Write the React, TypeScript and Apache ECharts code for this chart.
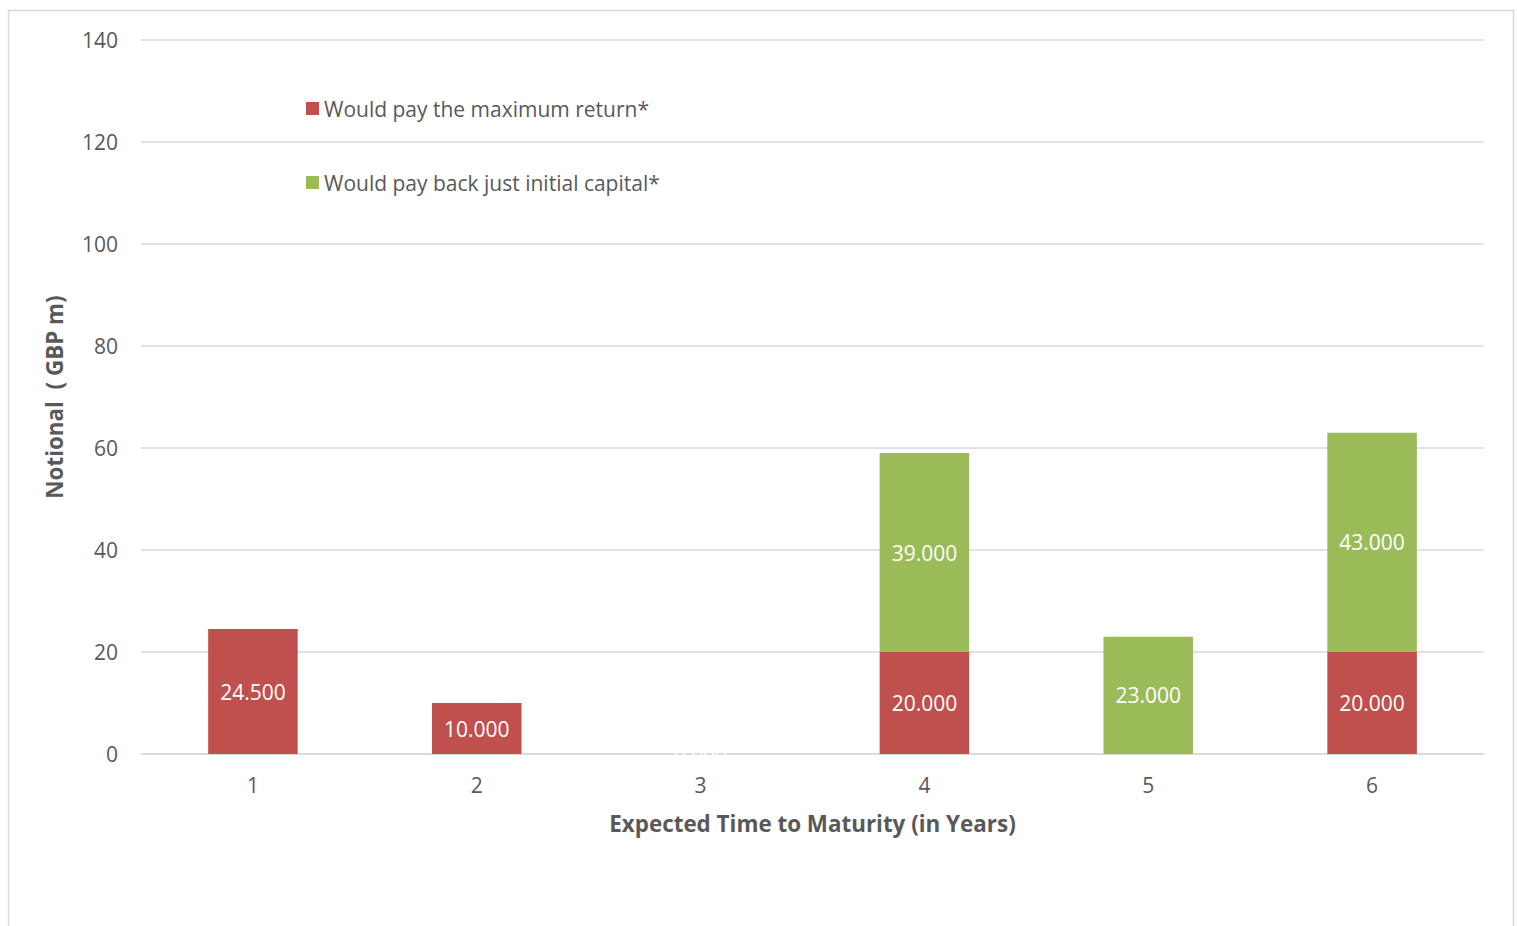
import React, { useEffect, useRef } from "react";
import * as echarts from "echarts";

const categories = ["1", "2", "3", "4", "5", "6"];
const maxReturn = [24.5, 10, 0, 20, null, 20];
const initialCapital = [null, null, null, 39, 23, 43];
const seriesNames = ["Would pay the maximum return*", "Would pay back just initial capital*"];
const yTicks = { min: 0, max: 140, interval: 20 };

const FONT = "Open Sans";
const GREY = "#595959";

export default function App() {
  const ref = useRef<HTMLDivElement>(null);
  useEffect(() => {
    if (!ref.current) return;
    const chart = echarts.init(ref.current, null, { renderer: "svg" });
    const label = {
      show: true,
      position: "inside",
      color: "#ffffff",
      fontFamily: FONT,
      fontSize: 21,
      formatter: (p: any) => (p.value == null ? "" : Number(p.value).toFixed(3)),
    };
    chart.setOption({
      animation: false,
      textStyle: { fontFamily: FONT },
      graphic: [
        {
          type: "rect",
          shape: { x: 8.5, y: 10.5, width: 1505, height: 930 },
          style: { fill: "none", stroke: "#d9d9d9", lineWidth: 1.5 },
          silent: true,
        },
      ],
      grid: { left: 141, right: 33, top: 40, bottom: 172, containLabel: false },
      legend: {
        orient: "vertical",
        left: 306,
        top: 98,
        padding: 0,
        itemWidth: 13,
        itemHeight: 13,
        itemGap: 53,
        icon: "rect",
        textStyle: { color: GREY, fontFamily: FONT, fontSize: 21, lineHeight: 20 },
        data: seriesNames,
      },
      xAxis: {
        type: "category",
        data: categories,
        name: "Expected Time to Maturity (in Years)",
        nameLocation: "middle",
        nameGap: 58,
        nameTextStyle: { color: GREY, fontFamily: FONT, fontSize: 22.4, fontWeight: "bold" },
        axisLine: { lineStyle: { color: "#d9d9d9", width: 1.5 } },
        axisTick: { show: false },
        axisLabel: { color: GREY, fontFamily: FONT, fontSize: 21, margin: 20 },
      },
      yAxis: {
        type: "value",
        min: yTicks.min,
        max: yTicks.max,
        interval: yTicks.interval,
        name: "Notional  ( GBP m)",
        nameLocation: "middle",
        nameGap: 76,
        nameRotate: 90,
        nameTextStyle: { color: GREY, fontFamily: FONT, fontSize: 22.4, fontWeight: "bold" },
        axisLine: { show: false },
        axisTick: { show: false },
        axisLabel: { color: GREY, fontFamily: FONT, fontSize: 21, margin: 23 },
        splitLine: { lineStyle: { color: "#d9d9d9", width: 1.5 } },
      },
      series: [
        {
          name: seriesNames[0],
          type: "bar",
          stack: "total",
          data: maxReturn,
          barWidth: "40%",
          itemStyle: { color: "#c0504d" },
          label,
        },
        {
          name: seriesNames[1],
          type: "bar",
          stack: "total",
          data: initialCapital,
          barWidth: "40%",
          itemStyle: { color: "#9bbb59" },
          label,
        },
      ],
    });
    return () => chart.dispose();
  }, []);
  return (
    <div
      ref={ref}
      style={{ position: "fixed", left: 0, top: 0, width: 1517, height: 926, background: "#fff" }}
    />
  );
}
